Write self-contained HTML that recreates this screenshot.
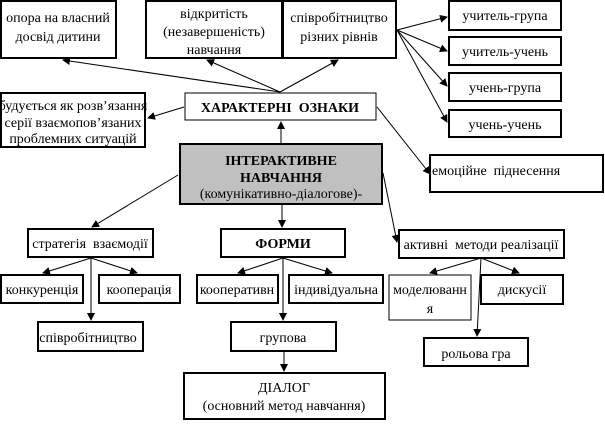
<!DOCTYPE html>
<html><head><meta charset="utf-8"><style>
body{margin:0;background:#fff}
svg text{font-family:"Liberation Serif","Noto Serif CJK SC",serif;font-size:14px;fill:#000}
</style></head><body>
<svg width="605" height="420" viewBox="0 0 605 420" xmlns="http://www.w3.org/2000/svg">
<defs><marker id="a" markerWidth="8" markerHeight="8" refX="7" refY="4" orient="auto" markerUnits="userSpaceOnUse"><path d="M0,0 L8,4 L0,8 z" fill="#000"/></marker></defs>
<g fill="#fff" stroke="#000">
<rect x="1" y="1" width="115" height="57" stroke-width="2"/>
<rect x="146" y="1" width="136" height="57" stroke-width="2"/>
<rect x="283" y="1" width="113" height="57" stroke-width="2"/>
<rect x="449" y="1" width="112" height="29" stroke-width="2"/>
<rect x="449" y="37" width="112" height="28" stroke-width="2"/>
<rect x="449" y="73" width="112" height="28" stroke-width="2"/>
<rect x="449" y="110" width="112" height="27" stroke-width="2"/>
<rect x="1" y="93" width="144" height="54" stroke-width="2"/>
<rect x="185" y="93" width="191" height="27" stroke-width="1"/>
<rect x="430" y="155" width="173" height="37" stroke-width="2"/>
<rect x="180" y="144" width="202" height="60" fill="#c0c0c0" stroke-width="2"/>
<rect x="28" y="229" width="125" height="28" stroke-width="2"/>
<rect x="221" y="229" width="124" height="28" stroke-width="2"/>
<rect x="399" y="230" width="165" height="28" stroke-width="2"/>
<rect x="1" y="275" width="82" height="28" stroke-width="2"/>
<rect x="99" y="275" width="81" height="28" stroke-width="2"/>
<rect x="197" y="275" width="81" height="28" stroke-width="2"/>
<rect x="289" y="275" width="94" height="28" stroke-width="2"/>
<rect x="389" y="275" width="82" height="45" stroke-width="1"/>
<rect x="481" y="275" width="82" height="29" stroke-width="2"/>
<rect x="38" y="322" width="105" height="29" stroke-width="2"/>
<rect x="231" y="322" width="105" height="29" stroke-width="2"/>
<rect x="424" y="338" width="104" height="28" stroke-width="2"/>
<rect x="184" y="373" width="201" height="46" stroke-width="2"/>
</g>
<g stroke="#000" stroke-width="1" marker-end="url(#a)">
<line x1="280" y1="92" x2="63" y2="60"/>
<line x1="280" y1="92" x2="207" y2="60"/>
<line x1="280" y1="92" x2="338" y2="60"/>
<line x1="184" y1="107" x2="148" y2="118"/>
<line x1="377" y1="107" x2="430" y2="174"/>
<line x1="281" y1="143" x2="281" y2="122"/>
<line x1="397" y1="30" x2="447" y2="17"/>
<line x1="397" y1="30" x2="447" y2="51"/>
<line x1="397" y1="30" x2="447" y2="86"/>
<line x1="397" y1="30" x2="447" y2="122"/>
<line x1="178" y1="175" x2="92" y2="227"/>
<line x1="282" y1="205" x2="282" y2="227"/>
<line x1="383" y1="173" x2="397" y2="242"/>
<line x1="91" y1="258" x2="43" y2="273"/>
<line x1="91" y1="258" x2="137" y2="273"/>
<line x1="91" y1="258" x2="91" y2="320"/>
<line x1="283" y1="258" x2="238" y2="273"/>
<line x1="283" y1="258" x2="332" y2="273"/>
<line x1="283" y1="258" x2="283" y2="320"/>
<line x1="284" y1="352" x2="284" y2="371"/>
<line x1="481" y1="258" x2="430" y2="273"/>
<line x1="481" y1="258" x2="519" y2="273"/>
<line x1="481" y1="258" x2="477" y2="336"/>
</g>
<g text-anchor="middle">
<text x="58" y="22">опора на власний</text>
<text x="58" y="41">досвід дитини</text>
<text x="214" y="18">відкритість</text>
<text x="214" y="36">(незавершеність)</text>
<text x="214" y="54">навчання</text>
<text x="339" y="22">співробітництво</text>
<text x="339" y="41">різних рівнів</text>
<text x="505" y="20">учитель-група</text>
<text x="505" y="56">учитель-учень</text>
<text x="505" y="92">учень-група</text>
<text x="505" y="129">учень-учень</text>
<text x="73" y="110">будується як розв’язання</text>
<text x="73" y="127">серії взаємопов’язаних</text>
<text x="73" y="143">проблемних ситуацій</text>
<text x="280" y="112" style="font-weight:bold">ХАРАКТЕРНІ&#160;&#160;ОЗНАКИ</text>
<text x="281" y="165" style="font-weight:bold">ІНТЕРАКТИВНЕ</text>
<text x="281" y="182" style="font-weight:bold">НАВЧАННЯ</text>
<text x="281" y="198">(комунікативно-діалогове)-</text>
<text x="90" y="248">стратегія&#160;&#160;взаємодії</text>
<text x="283" y="248" style="font-weight:bold">ФОРМИ</text>
<text x="481" y="249">активні&#160;&#160;методи реалізації</text>
<text x="42" y="294">конкуренція</text>
<text x="139" y="294">кооперація</text>
<text x="237" y="294">кооперативн</text>
<text x="336" y="294">індивідуальна</text>
<text x="430" y="294">моделюванн</text>
<text x="430" y="313">я</text>
<text x="522" y="294">дискусії</text>
<text x="88" y="342">співробітництво</text>
<text x="283" y="342">групова</text>
<text x="476" y="358">рольова гра</text>
<text x="284" y="392">ДІАЛОГ</text>
<text x="284" y="410">(основний метод навчання)</text>
</g>
<text x="432" y="175">емоційне&#160;&#160;піднесення</text>
</svg>
</body></html>
